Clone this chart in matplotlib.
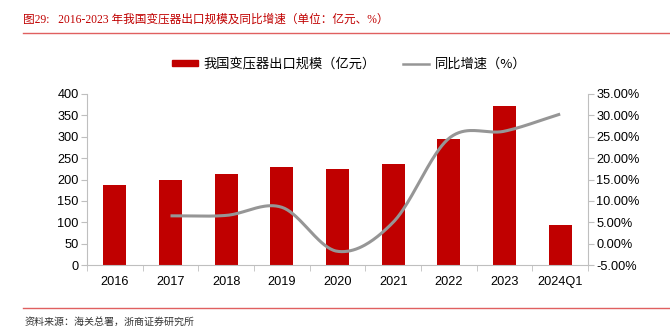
import numpy as np
import matplotlib
matplotlib.use("Agg")
import matplotlib.pyplot as plt
from matplotlib.lines import Line2D
from matplotlib.patches import Patch
from matplotlib.ticker import FuncFormatter

plt.rcParams['font.family'] = ['Liberation Sans', 'Noto Sans CJK SC', 'DejaVu Sans']

categories = ["2016", "2017", "2018", "2019", "2020", "2021", "2022", "2023", "2024Q1"]
export_scale = [186, 200, 212, 229, 225, 236, 295, 373, 93]
growth_pct = [None, 6.5, 6.6, 8.5, -1.8, 5.0, 24.6, 26.3, 30.3]

title = "图29:   2016-2023 年我国变压器出口规模及同比增速（单位：亿元、%）"
source = "资料来源：海关总署，浙商证券研究所"
bar_label = "我国变压器出口规模（亿元）"
line_label = "同比增速（%）"

BAR_C = "#C00000"
LINE_C = "#969696"
SPINE_C = "#BFBFBF"
CJK = ['Noto Sans CJK SC', 'DejaVu Sans']
SERIF_CJK = ['Liberation Serif', 'Noto Sans CJK SC', 'DejaVu Sans']
TICK_FS = 9.2

fig = plt.figure(figsize=(6.7, 3.35), dpi=100)
ax = fig.add_axes([87/670, 1-265/335, (588-87)/670, (265-94)/335])
x = np.arange(len(categories))
ax.bar(x, export_scale, width=0.41, color=BAR_C, zorder=2)
ax.set_xlim(-0.5, len(categories)-0.5)
ax.set_ylim(0, 400)
ax.set_yticks(np.arange(0, 401, 50))
ax.set_xticks(x)
ax.set_xticklabels(categories)
ax.set_xticks(np.arange(-0.5, len(categories)), minor=True)
ax.tick_params(axis='x', which='major', length=0, labelsize=TICK_FS, pad=8)
ax.tick_params(axis='x', which='minor', length=4, color=SPINE_C, direction='out')
ax.tick_params(axis='y', length=4, color=SPINE_C, labelsize=TICK_FS, pad=2)
for s in ['top', 'right']:
    ax.spines[s].set_visible(False)
for s in ['left', 'bottom']:
    ax.spines[s].set_color(SPINE_C)

ax2 = ax.twinx()
ax2.set_ylim(-5, 35)
ax2.set_yticks(np.arange(-5, 36, 5))
ax2.yaxis.set_major_formatter(FuncFormatter(lambda v, p: f"{v:.2f}%"))
ax2.tick_params(axis='y', length=4, color=SPINE_C, labelsize=TICK_FS, pad=2)
for s in ['top', 'left', 'bottom']:
    ax2.spines[s].set_visible(False)
ax2.spines['right'].set_color(SPINE_C)

# smoothed line (Catmull-Rom through the data points)
px = np.array([i for i, v in enumerate(growth_pct) if v is not None], dtype=float)
py = np.array([v for v in growth_pct if v is not None], dtype=float)
P = np.column_stack([px, py])
ext = np.vstack([2*P[0]-P[1], P, 2*P[-1]-P[-2]])
xs, ys = [], []
t = np.linspace(0, 1, 40)
for i in range(1, len(ext)-2):
    p0, p1, p2, p3 = ext[i-1], ext[i], ext[i+1], ext[i+2]
    m1 = (p2 - p0) / 2
    m2 = (p3 - p1) / 2
    h00 = 2*t**3 - 3*t**2 + 1
    h10 = t**3 - 2*t**2 + t
    h01 = -2*t**3 + 3*t**2
    h11 = t**3 - t**2
    seg = (h00[:, None]*p1 + h10[:, None]*m1 + h01[:, None]*p2 + h11[:, None]*m2)
    xs.extend(seg[:, 0]); ys.extend(seg[:, 1])
ax2.plot(xs, ys, color=LINE_C, lw=2.2, solid_capstyle='butt', zorder=3)

# legend
handles = [Patch(color=BAR_C), Line2D([0], [0], color=LINE_C, lw=1.8)]
leg = fig.legend(handles, [bar_label, line_label], loc='center', bbox_to_anchor=(349/670, 1-64/335),
                 ncol=2, frameon=False, prop={'family': CJK, 'size': 9.5},
                 handlelength=2.0, handleheight=0.3, columnspacing=2.0, handletextpad=0.45)

# title and rules
fig.text(23/670, 1-20/335, title, color=BAR_C, fontsize=8.4, va='center', ha='left', family=SERIF_CJK)
fig.add_artist(Line2D([23/670, 1], [1-33/335, 1-33/335], color="#E06060", lw=1.0))
fig.add_artist(Line2D([23/670, 1], [1-308/335, 1-308/335], color="#E06060", lw=1.0))
fig.text(25/670, 1-322/335, source, color="#333333", fontsize=7.2, va='center', ha='left', family=CJK)

fig.savefig("out.png", dpi=100)
